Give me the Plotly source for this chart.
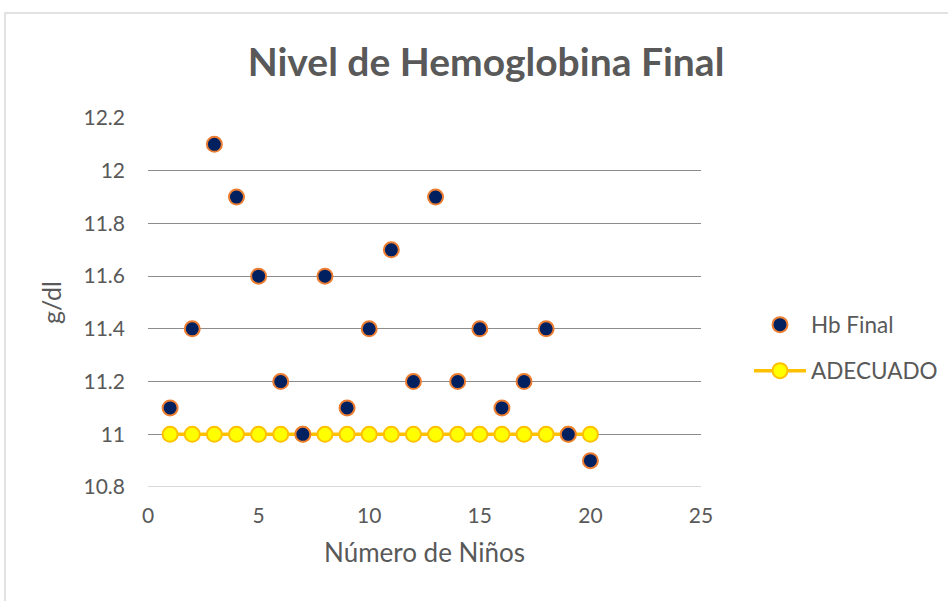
import plotly.graph_objects as go

ninos = list(range(1, 21))
hb_final = [11.1, 11.4, 12.1, 11.9, 11.6, 11.2, 11.0, 11.6, 11.1, 11.4,
            11.7, 11.2, 11.9, 11.2, 11.4, 11.1, 11.2, 11.4, 11.0, 10.9]
adecuado = [11.0] * 20
y_ticks = [10.8, 11, 11.2, 11.4, 11.6, 11.8, 12, 12.2]
y_tick_labels = ["10.8", "11", "11.2", "11.4", "11.6", "11.8", "12", "12.2"]
x_ticks = [0, 5, 10, 15, 20, 25]

FONT = "Lato"
GREY = "#595959"

fig = go.Figure()
fig.add_trace(go.Scatter(
    x=ninos, y=adecuado, name="ADECUADO", mode="lines+markers",
    line=dict(color="#FFC000", width=3.5),
    marker=dict(color="#FFFF00", size=15, symbol="circle",
                line=dict(color="#FFC000", width=2)),
    legend="legend2",
))
fig.add_trace(go.Scatter(
    x=ninos, y=hb_final, name="Hb Final", mode="markers",
    marker=dict(color="#002060", size=15, symbol="circle",
                line=dict(color="#ED7D31", width=2)),
    legend="legend",
))

L, R, T, B = 148, 948 - 701, 118, 601 - 487
W, H = 948 - L - R, 601 - T - B

fig.update_layout(
    width=948, height=601,
    margin=dict(l=L, r=R, t=T, b=B, autoexpand=False),
    paper_bgcolor="white", plot_bgcolor="white",
    font=dict(family=FONT, color=GREY, size=21),
    title=dict(text="<b>Nivel de Hemoglobina Final</b>", x=486 / 948, xanchor="center",
               y=1 - 62 / 601, yanchor="middle",
               font=dict(family=FONT, size=39, color=GREY)),
    xaxis=dict(range=[0, 25], tickvals=x_ticks, showgrid=False, zeroline=False,
               showline=False, ticks="", ticklabelstandoff=14,
               tickfont=dict(size=21, color=GREY),
               title=dict(text="Número de Niños", font=dict(size=26, color=GREY), standoff=17)),
    yaxis=dict(range=[10.8, 12.2], tickvals=y_ticks, ticktext=y_tick_labels,
               showgrid=True, gridcolor="#8C8C8C", gridwidth=1, zeroline=False,
               showline=False, ticks="", ticklabelstandoff=22,
               tickfont=dict(size=21, color=GREY),
               title=dict(text="g/dl", font=dict(size=25, color=GREY), standoff=14)),
    legend=dict(xref="container", yref="container", x=749 / 948, y=1 - 325 / 601,
                xanchor="left", yanchor="middle",
                font=dict(size=22.5, color=GREY), bgcolor="rgba(0,0,0,0)", itemwidth=52),
    legend2=dict(xref="container", yref="container", x=749 / 948, y=1 - 371 / 601,
                 xanchor="left", yanchor="middle",
                 font=dict(size=22.5, color=GREY), bgcolor="rgba(0,0,0,0)", itemwidth=52),
    showlegend=True,
)

# bottom axis line (light) over gridline at 10.8
fig.add_shape(type="line", xref="paper", yref="y", x0=0, x1=1, y0=10.8, y1=10.8,
              line=dict(color="#D9D9D9", width=2), layer="above")
# chart border
fig.add_shape(type="rect", xref="paper", yref="paper",
              x0=(5 - L) / W, x1=(952 - L) / W, y0=(487 - 606) / H, y1=(487 - 13) / H,
              line=dict(color="#D9D9D9", width=1.5), layer="below")

fig.write_html("out.html", config={"displayModeBar": False},
               post_script="document.body.style.margin='0';")
